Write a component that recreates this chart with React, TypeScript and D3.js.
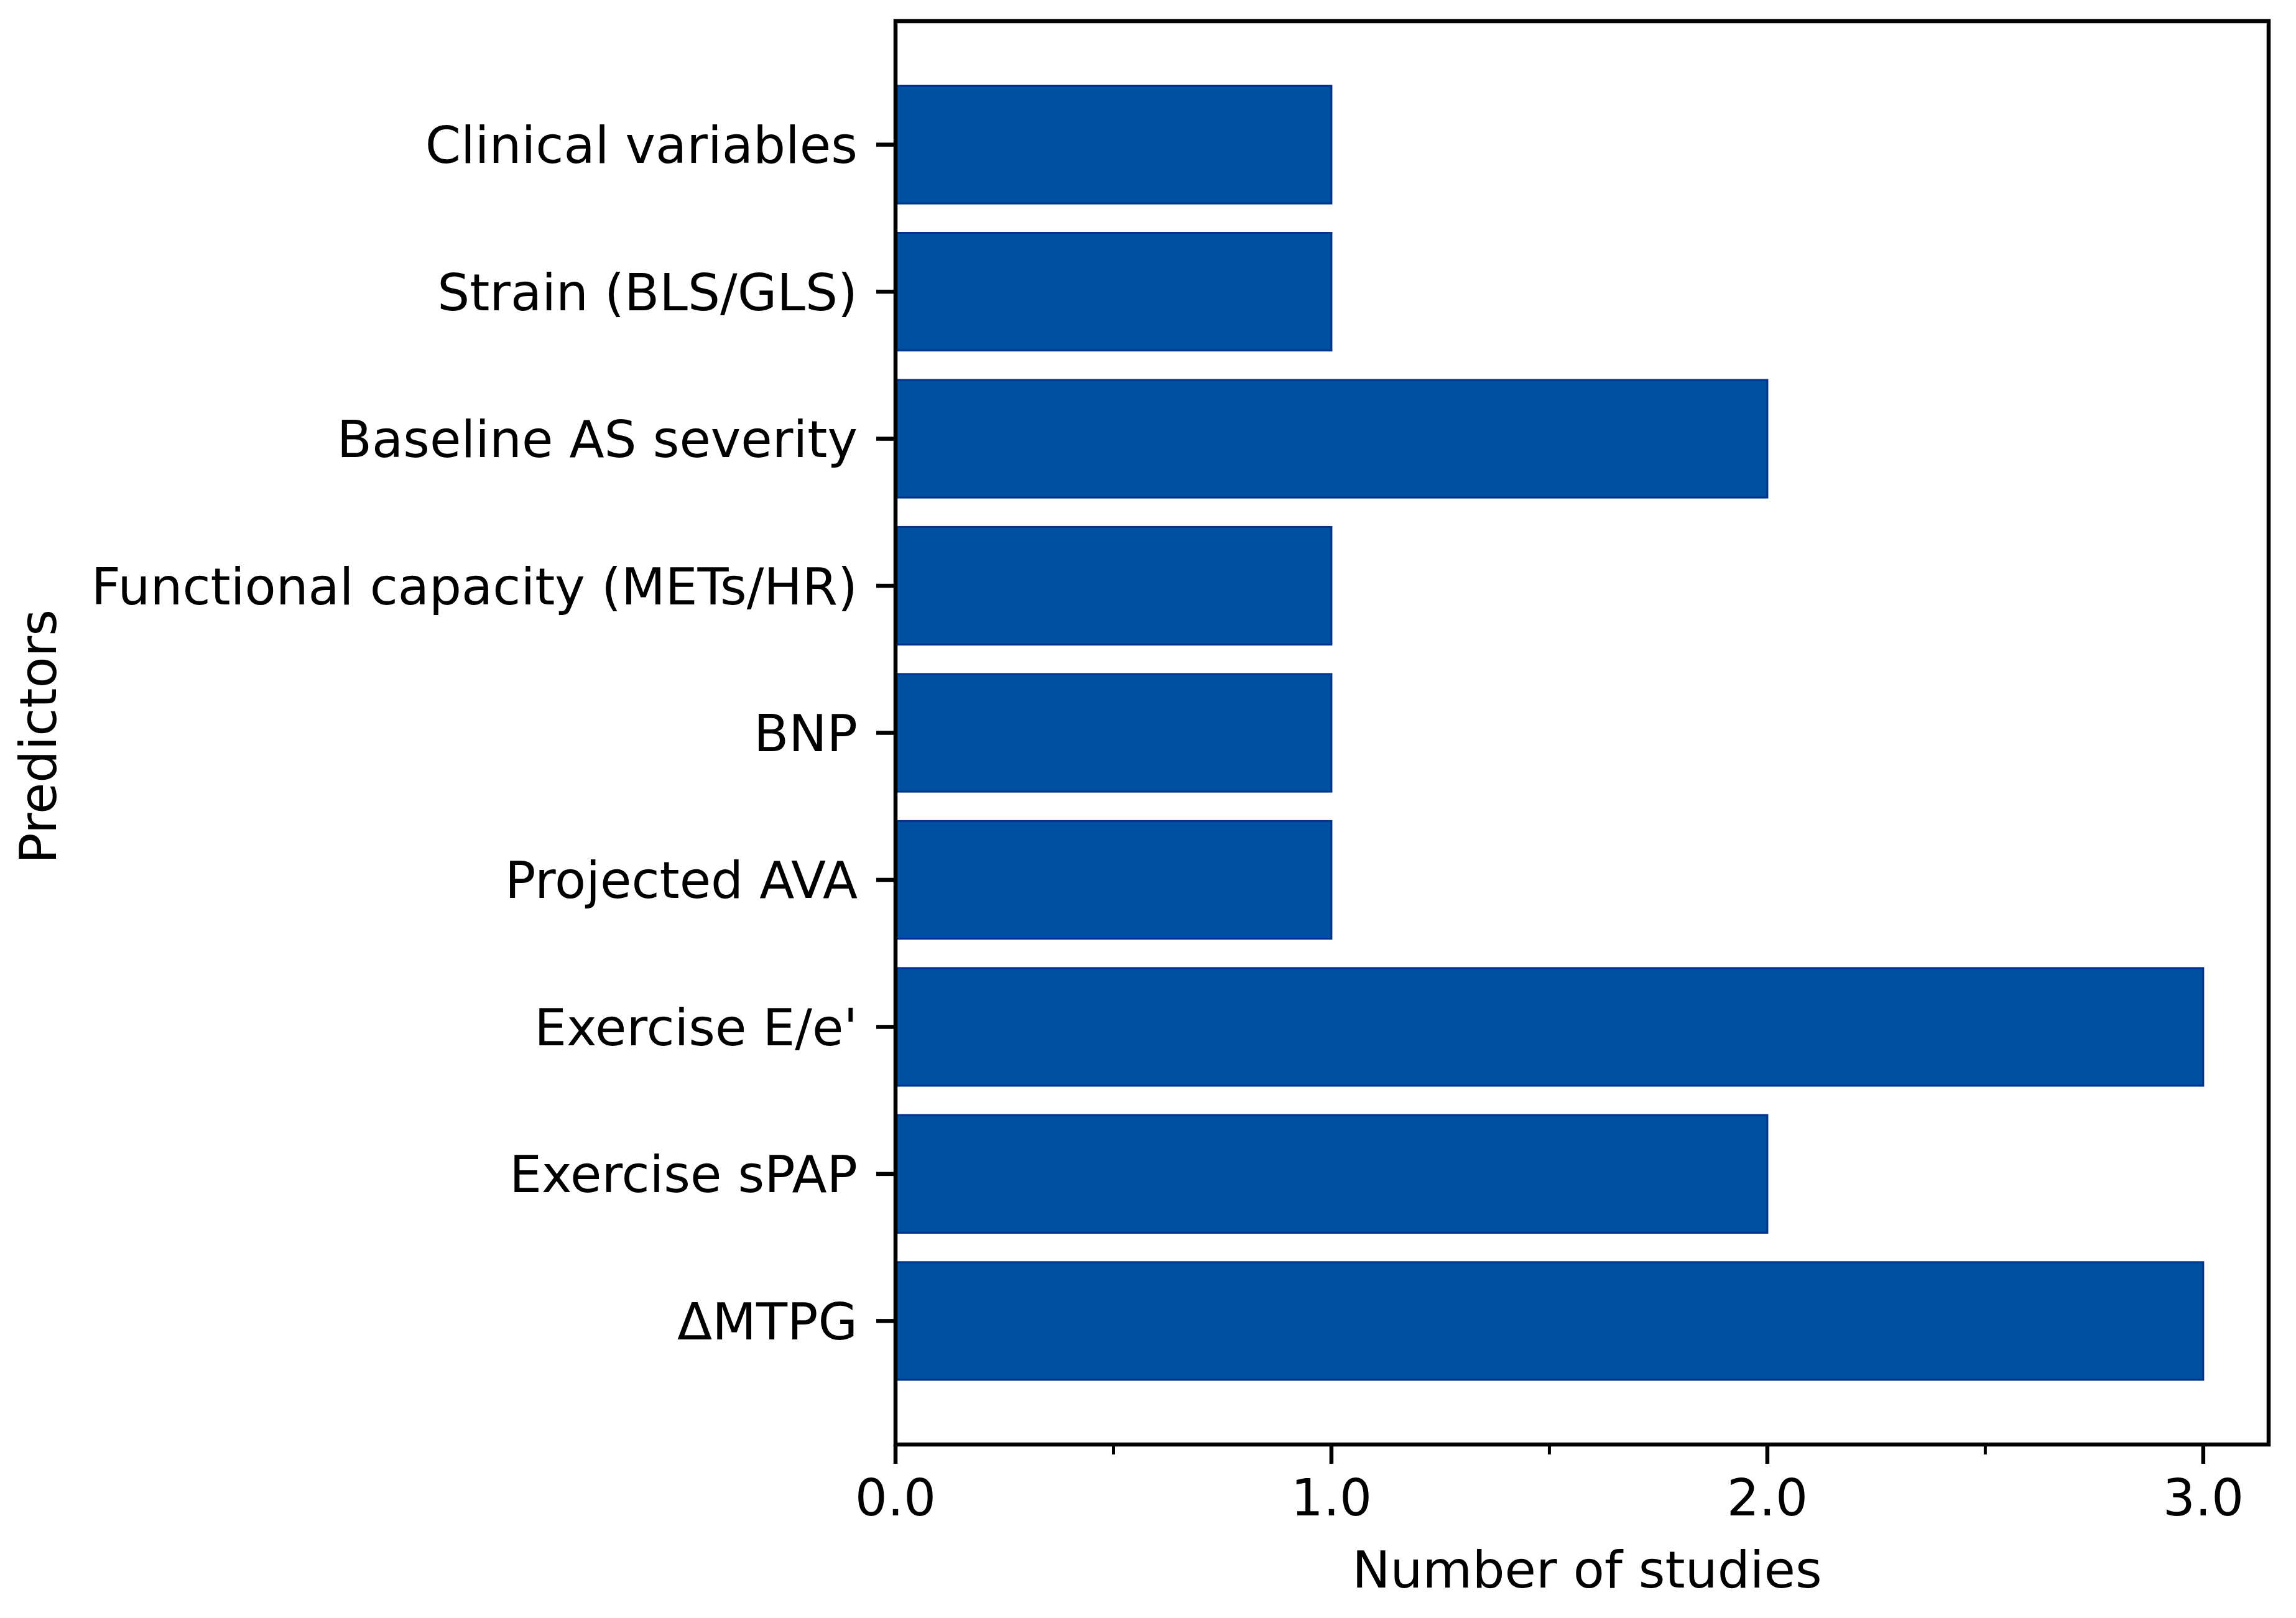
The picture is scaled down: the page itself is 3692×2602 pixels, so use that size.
import React from "react";
import * as d3 from "d3";

const categories: string[] = [
  "ΔMTPG",
  "Exercise sPAP",
  "Exercise E/e'",
  "Projected AVA",
  "BNP",
  "Functional capacity (METs/HR)",
  "Baseline AS severity",
  "Strain (BLS/GLS)",
  "Clinical variables",
];
const studyCounts: number[] = [3, 2, 3, 1, 1, 1, 2, 1, 1];
const majorTicks: number[] = [0, 1, 2, 3];
const minorTicks: number[] = [0.5, 1.5, 2.5];
const xLabel = "Number of studies";
const yLabel = "Predictors";

const W = 3692;
const H = 2602;
const left = 1440;
const right = 3648;
const top = 34;
const bottom = 2323;
const FONT = "'DejaVu Sans', sans-serif";
const FS = 82;
const LW = 6.5;

export default function App() {
  const n = categories.length;
  const barH = 0.8;
  const yPad = (n - 1 + barH) * 0.05;
  const x = d3.scaleLinear().domain([0, d3.max(studyCounts)! * 1.05]).range([left, right]);
  const y = d3
    .scaleLinear()
    .domain([-barH / 2 - yPad, n - 1 + barH / 2 + yPad])
    .range([bottom, top]);
  const fmt = d3.format(".1f");
  const bh = y(0) - y(barH);

  return (
    <svg
      width={W}
      height={H}
      viewBox={`0 0 ${W} ${H}`}
      style={{ position: "absolute", left: 0, top: 0, background: "#fff" }}
    >
      <rect x={0} y={0} width={W} height={H} fill="#fff" />
      {categories.map((c, i) => (
        <rect
          key={c}
          x={x(0)}
          y={y(i + barH / 2)}
          width={x(studyCounts[i]) - x(0)}
          height={bh}
          fill="#0050A2"
          stroke="#00338C"
          strokeWidth={3}
        />
      ))}
      {/* spines */}
      <rect
        x={left}
        y={top}
        width={right - left}
        height={bottom - top}
        fill="none"
        stroke="#000"
        strokeWidth={LW}
        strokeLinejoin="miter"
      />
      {/* y ticks */}
      {categories.map((c, i) => (
        <g key={"yt" + c}>
          <line x1={left - 31} x2={left} y1={y(i)} y2={y(i)} stroke="#000" strokeWidth={LW} />
          <text
            x={left - 61}
            y={y(i)}
            dy="0.36em"
            textAnchor="end"
            fontFamily={FONT}
            fontSize={FS}
            fill="#000"
          >
            {c}
          </text>
        </g>
      ))}
      {/* x ticks */}
      {majorTicks.map((t) => (
        <g key={"xt" + t}>
          <line x1={x(t)} x2={x(t)} y1={bottom} y2={bottom + 31} stroke="#000" strokeWidth={LW} />
          <text
            x={x(t)}
            y={bottom + 114}
            textAnchor="middle"
            fontFamily={FONT}
            fontSize={FS}
            fill="#000"
          >
            {fmt(t)}
          </text>
        </g>
      ))}
      {minorTicks.map((t) => (
        <line key={"mt" + t} x1={x(t)} x2={x(t)} y1={bottom} y2={bottom + 16} stroke="#000" strokeWidth={5} />
      ))}
      <text
        x={(left + right) / 2 + 8}
        y={2553}
        textAnchor="middle"
        fontFamily={FONT}
        fontSize={FS}
        fill="#000"
      >
        {xLabel}
      </text>
      <text
        transform={`translate(90, ${(top + bottom) / 2 + 6}) rotate(-90)`}
        textAnchor="middle"
        fontFamily={FONT}
        fontSize={FS}
        fill="#000"
      >
        {yLabel}
      </text>
    </svg>
  );
}
